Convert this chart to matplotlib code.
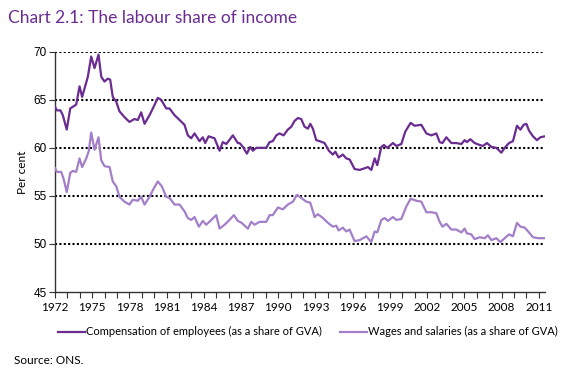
import matplotlib
matplotlib.use("Agg")
import matplotlib.pyplot as plt
from matplotlib.ticker import MultipleLocator

# values (decimal year, per cent of GVA)
comp_years = [1972.0, 1972.15, 1972.44, 1972.63, 1972.95, 1973.23, 1973.71, 1973.98, 1974.19, 1974.65,
              1974.92, 1975.19, 1975.51, 1975.73, 1975.99, 1976.26, 1976.45, 1976.66, 1976.94, 1977.2,
              1977.6, 1978.0, 1978.41, 1978.68, 1978.95, 1979.22, 1979.62, 1979.89, 1980.29, 1980.56,
              1980.97, 1981.23, 1981.64, 1982.04, 1982.44, 1982.71, 1982.98, 1983.25, 1983.65, 1983.92,
              1984.11, 1984.38, 1984.86, 1985.27, 1985.53, 1985.81, 1986.34, 1986.74, 1986.88, 1987.15,
              1987.47, 1987.74, 1987.95, 1988.23, 1988.63, 1989.03, 1989.3, 1989.56, 1989.84, 1990.1,
              1990.43, 1990.77, 1991.05, 1991.31, 1991.58, 1991.85, 1992.12, 1992.39, 1992.58, 1992.79,
              1993.06, 1993.33, 1993.73, 1994.08, 1994.4, 1994.6, 1994.86, 1995.21, 1995.48, 1995.75,
              1996.15, 1996.56, 1997.23, 1997.5, 1997.77, 1997.98, 1998.31, 1998.52, 1998.79, 1999.24,
              1999.52, 1999.92, 2000.24, 2000.67, 2000.99, 2001.53, 2001.94, 2002.34, 2002.74, 2003.01,
              2003.23, 2003.55, 2003.95, 2004.35, 2004.76, 2005.02, 2005.21, 2005.48, 2005.83, 2006.23,
              2006.5, 2006.82, 2007.18, 2007.58, 2007.98, 2008.25, 2008.6, 2008.92, 2009.24, 2009.52,
              2009.78, 2010.0, 2010.21, 2010.53, 2010.85, 2011.13, 2011.48]
comp_vals = [64.3, 63.9, 63.9, 63.4, 61.9, 64.1, 64.5, 66.4, 65.3, 67.4,
             69.5, 68.3, 69.7, 67.4, 66.9, 67.2, 67.1, 65.3, 64.8, 63.8,
             63.2, 62.7, 63.0, 62.9, 63.7, 62.5, 63.4, 64.1, 65.2, 65.0,
             64.1, 64.1, 63.4, 62.9, 62.4, 61.3, 61.0, 61.5, 60.7, 61.1,
             60.5, 61.2, 61.0, 59.7, 60.6, 60.4, 61.3, 60.5, 60.5, 60.1,
             59.4, 60.1, 59.7, 60.0, 60.0, 60.0, 60.6, 60.7, 61.3, 61.5,
             61.3, 61.9, 62.2, 62.8, 63.1, 63.0, 62.2, 62.0, 62.5, 62.0,
             60.8, 60.7, 60.5, 59.7, 59.3, 59.6, 59.0, 59.3, 58.9, 58.8,
             57.8, 57.7, 58.0, 57.7, 58.9, 58.2, 60.1, 60.3, 60.0, 60.5,
             60.2, 60.4, 61.7, 62.6, 62.3, 62.4, 61.5, 61.3, 61.5, 60.6,
             60.5, 61.1, 60.5, 60.5, 60.4, 60.8, 60.6, 60.9, 60.5, 60.3,
             60.2, 60.5, 60.1, 60.0, 59.5, 60.0, 60.5, 60.7, 62.3, 61.9,
             62.4, 62.5, 61.8, 61.2, 60.8, 61.1, 61.2]

wage_years = [1972.0, 1972.15, 1972.5, 1972.69, 1972.95, 1973.23, 1973.44, 1973.71, 1973.98, 1974.19,
              1974.52, 1974.73, 1974.92, 1975.19, 1975.51, 1975.73, 1975.99, 1976.4, 1976.66, 1976.94,
              1977.2, 1977.6, 1978.0, 1978.27, 1978.68, 1978.95, 1979.22, 1979.62, 1979.97, 1980.29,
              1980.61, 1980.97, 1981.23, 1981.64, 1982.04, 1982.44, 1982.71, 1982.98, 1983.25, 1983.6,
              1983.92, 1984.19, 1984.6, 1985.0, 1985.27, 1985.67, 1986.07, 1986.42, 1986.74, 1987.04,
              1987.55, 1987.82, 1988.09, 1988.49, 1989.03, 1989.3, 1989.56, 1989.97, 1990.37, 1990.77,
              1991.18, 1991.5, 1991.85, 1992.26, 1992.58, 1992.93, 1993.19, 1993.6, 1994.0, 1994.4,
              1994.68, 1994.86, 1995.21, 1995.48, 1995.75, 1996.15, 1996.56, 1997.1, 1997.5, 1997.77,
              1997.98, 1998.31, 1998.58, 1998.84, 1999.24, 1999.52, 1999.92, 2000.32, 2000.67, 2001.13,
              2001.53, 2001.94, 2002.34, 2002.74, 2003.01, 2003.23, 2003.55, 2003.95, 2004.35, 2004.76,
              2005.02, 2005.21, 2005.56, 2005.83, 2006.23, 2006.64, 2006.9, 2007.18, 2007.58, 2007.9,
              2008.25, 2008.6, 2008.92, 2009.24, 2009.52, 2009.87, 2010.21, 2010.53, 2010.94, 2011.48]
wage_vals = [57.9, 57.5, 57.5, 56.8, 55.4, 57.4, 57.6, 57.5, 58.9, 58.0,
             58.9, 59.7, 61.6, 59.8, 61.1, 58.7, 58.1, 58.0, 56.5, 56.0,
             54.9, 54.4, 54.1, 54.6, 54.5, 54.9, 54.1, 54.9, 55.8, 56.5,
             56.0, 54.9, 54.8, 54.1, 54.1, 53.4, 52.7, 52.5, 52.8, 51.8,
             52.4, 52.0, 52.5, 53.0, 51.6, 52.0, 52.5, 53.0, 52.4, 52.2,
             51.6, 52.3, 52.0, 52.3, 52.3, 53.0, 53.0, 53.8, 53.6, 54.1,
             54.4, 55.1, 54.8, 54.4, 54.3, 52.8, 53.1, 52.7, 52.2, 51.8,
             51.9, 51.4, 51.7, 51.3, 51.5, 50.3, 50.4, 50.8, 50.2, 51.3,
             51.2, 52.5, 52.7, 52.4, 52.8, 52.5, 52.6, 53.9, 54.7, 54.5,
             54.4, 53.3, 53.3, 53.2, 52.3, 51.8, 52.1, 51.5, 51.5, 51.2,
             51.6, 51.1, 51.0, 50.5, 50.7, 50.6, 50.9, 50.4, 50.6, 50.2,
             50.6, 51.0, 50.8, 52.2, 51.8, 51.7, 51.2, 50.7, 50.6, 50.6]

tick_years = list(range(1972, 2012, 3))
grid_levels = [50, 55, 60, 65, 70]

dark = "#6a2c91"
light = "#a47fc9"

fig = plt.figure(figsize=(5.65, 3.75), dpi=100)
ax = fig.add_axes([0.0973, 0.2213, 0.8673, 0.6407])

for g in grid_levels:
    ax.axhline(g, color="black", lw=1.5, linestyle=(0, (1, 1.1)), zorder=1)

ax.plot(comp_years, comp_vals, color=dark, lw=1.6,
        label="Compensation of employees (as a share of GVA)", zorder=3)
ax.plot(wage_years, wage_vals, color=light, lw=1.6,
        label="Wages and salaries (as a share of GVA)", zorder=3)

ax.set_xlim(1972, 2011.5)
ax.set_ylim(45, 70)
ax.set_xticks(tick_years)
ax.xaxis.set_minor_locator(MultipleLocator(1))
ax.yaxis.set_major_locator(MultipleLocator(5))
ax.tick_params(axis="x", which="both", direction="out", length=4, width=0.8,
               labelsize=8.5, pad=3, color="#333333")
ax.tick_params(axis="y", direction="out", length=4, width=0.8, labelsize=8.5,
               pad=2, color="#333333")
for lab in ax.get_xticklabels():
    lab.set_family("Lato")
for lab in ax.get_yticklabels():
    lab.set_family("Liberation Sans")

for s in ["top", "right"]:
    ax.spines[s].set_visible(False)
for s in ["left", "bottom"]:
    ax.spines[s].set_color("#333333")
    ax.spines[s].set_linewidth(1.0)

ax.set_ylabel("Per cent", fontsize=8.5, family="Lato", labelpad=4)

fig.text(0.014, 0.952, "Chart 2.1: The labour share of income", color=dark,
         fontsize=12.5, family="Lato", va="center", ha="left")

fig.legend(loc="center", bbox_to_anchor=(0.545, 0.115), ncol=2, frameon=False,
           prop={"family": "Lato", "size": 8}, handlelength=2.4,
           handletextpad=0.15, columnspacing=1.6)

fig.text(0.025, 0.04, "Source: ONS.", fontsize=8.5, family="Lato", va="center")

fig.savefig("out.png", dpi=100)
